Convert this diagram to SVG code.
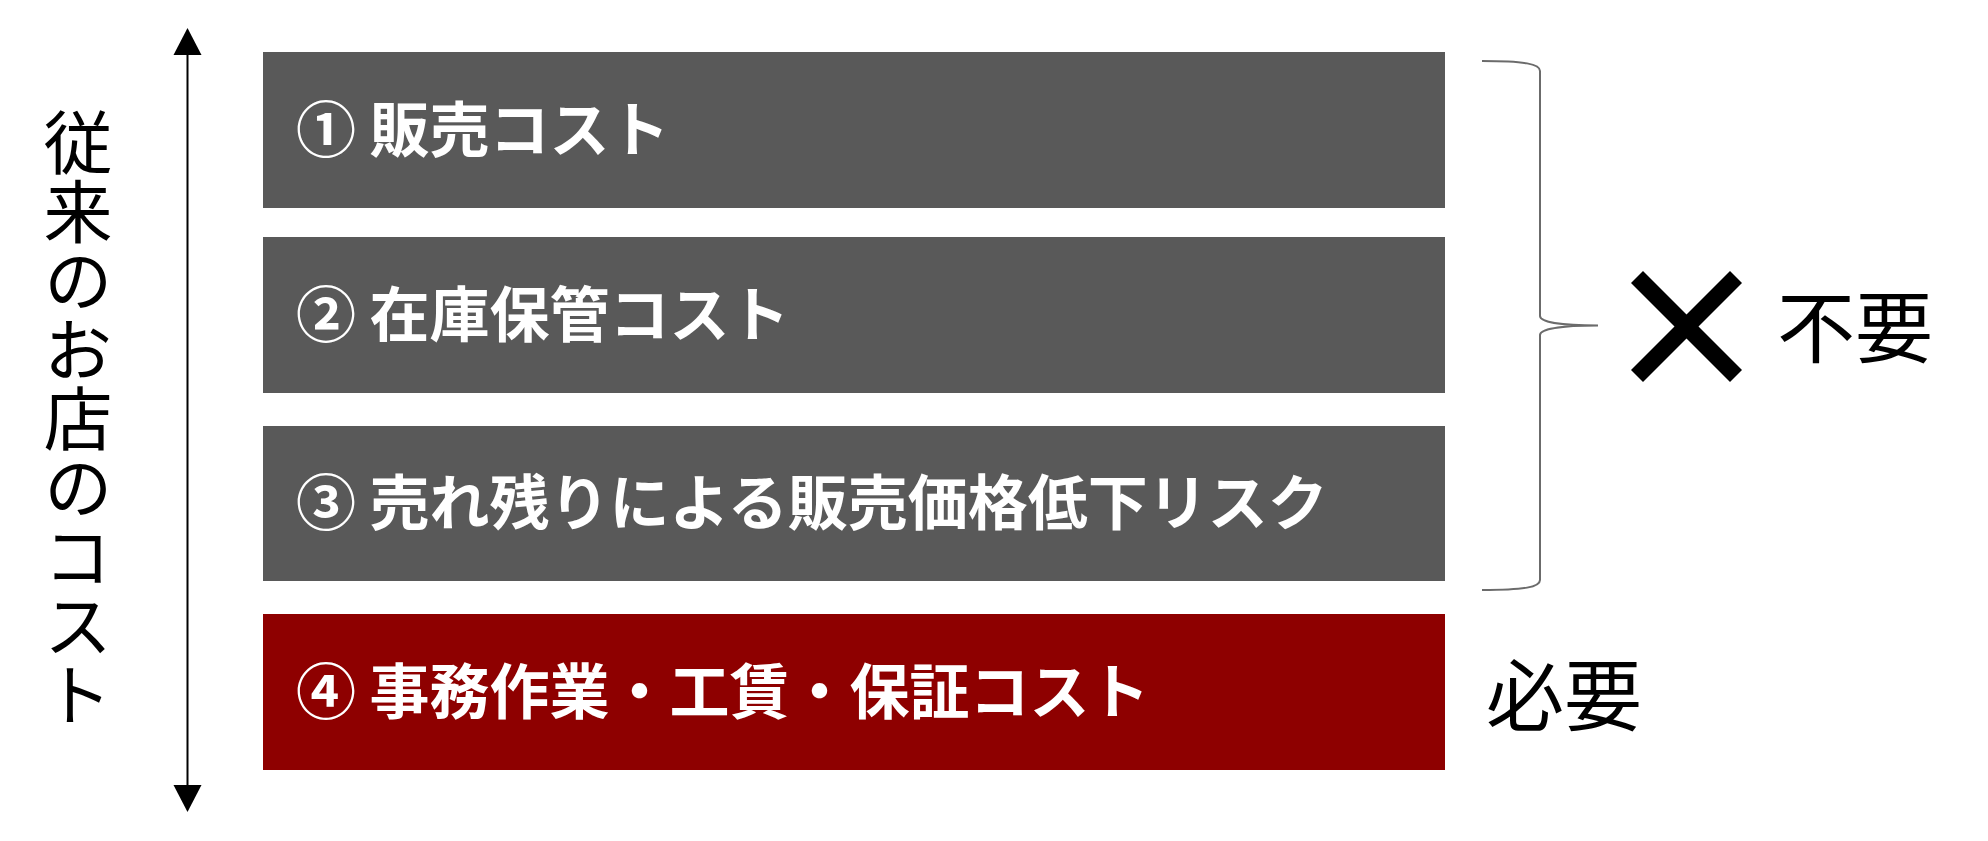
<svg xmlns="http://www.w3.org/2000/svg" width="1988" height="841" viewBox="0 0 1988 841">
<style>
.bar{fill:#595959}
.bar4{fill:#8E0000}
.lbl{font-family:"Noto Sans CJK JP","Noto Sans",sans-serif;font-weight:700;font-size:60px;fill:#ffffff}
.side{font-family:"Noto Sans CJK JP","Noto Sans",sans-serif;font-weight:400;fill:#000000}
</style>
<rect x="0" y="0" width="1988" height="841" fill="#ffffff"/>
<g id="axis">
<line x1="187.5" y1="52" x2="187.5" y2="790" stroke="#000" stroke-width="2"/>
<polygon points="187.5,28 201.5,55 173.5,55" fill="#000"/>
<polygon points="187.5,812 201.5,785 173.5,785" fill="#000"/>
<text class="side" x="78" y="108" font-size="69" writing-mode="vertical-rl">従来のお店のコスト</text>
</g>
<g id="bar1">
<rect class="bar" x="263" y="52" width="1182" height="156"/>
<text class="lbl" x="296" y="151.5">① 販売コスト</text>
</g>
<g id="bar2">
<rect class="bar" x="263" y="237" width="1182" height="156"/>
<text class="lbl" x="296" y="336.5">② 在庫保管コスト</text>
</g>
<g id="bar3">
<rect class="bar" x="263" y="426" width="1182" height="155"/>
<text class="lbl" x="296" y="525">③ 売れ残りによる販売価格低下リスク</text>
</g>
<g id="bar4">
<rect class="bar4" x="263" y="614" width="1182" height="156"/>
<text class="lbl" x="296" y="713.5">④ 事務作業・工賃・保証コスト</text>
</g>
<g id="connectors">
<path d="M1482,61 C1525,61 1540,64 1540,71 L1540,316 C1540,322 1560,325.5 1598,325.5 C1560,325.5 1540,329 1540,335 L1540,580 C1540,587 1525,590 1482,590" fill="none" stroke="#6b6b6b" stroke-width="2"/>
</g>
<g id="unneeded">
<line x1="1637" y1="277" x2="1736" y2="376" stroke="#000" stroke-width="17"/>
<line x1="1736" y1="277" x2="1637" y2="376" stroke="#000" stroke-width="17"/>
<text class="side" x="1777" y="357" font-size="78">不要</text>
</g>
<g id="needed">
<text class="side" x="1486" y="725" font-size="78">必要</text>
</g>
</svg>
